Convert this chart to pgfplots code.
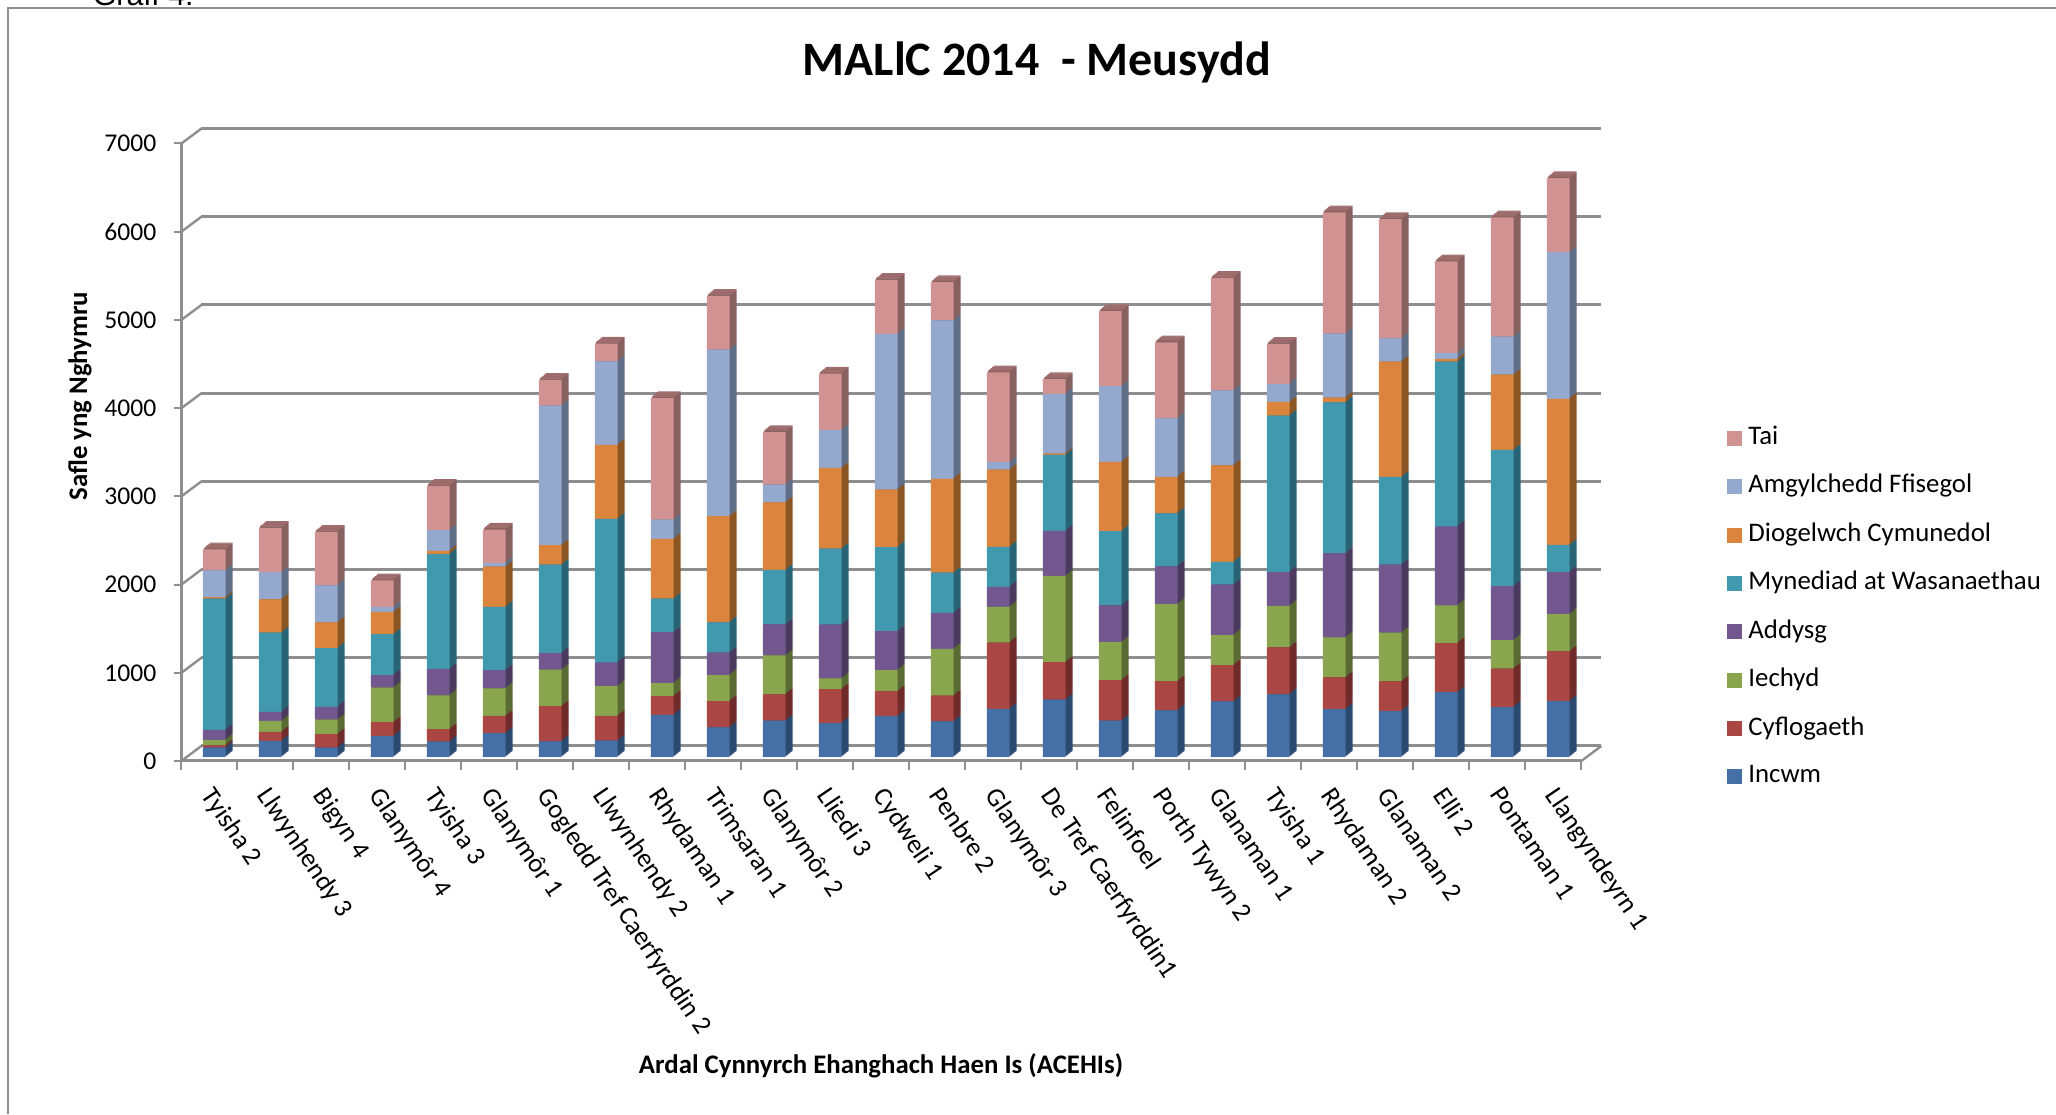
\documentclass[border=0pt]{standalone}
\usepackage{fontspec}
\setmainfont{Carlito}
\newfontfamily\arialfont{Liberation Sans}
\usepackage{pgfplots}
\usepackage{pgfplotstable}
\pgfplotsset{compat=1.18}

% 1 px of the reference = 0.25pt
\definecolor{gridgray}{HTML}{8E8E8E}
\definecolor{cIncwm}{HTML}{4470A6}
\definecolor{cCyf}{HTML}{AA4643}
\definecolor{cIech}{HTML}{89A54E}
\definecolor{cAddysg}{HTML}{73588F}
\definecolor{cMyn}{HTML}{4198AF}
\definecolor{cDio}{HTML}{DB843D}
\definecolor{cAmg}{HTML}{95A9CF}
\definecolor{cTai}{HTML}{D19392}
\definecolor{dIncwm}{HTML}{2A4A70}
\definecolor{dCyf}{HTML}{6E2B2A}
\definecolor{dIech}{HTML}{5A6A33}
\definecolor{dAddysg}{HTML}{4A3A5E}
\definecolor{dMyn}{HTML}{286474}
\definecolor{dDio}{HTML}{8C5624}
\definecolor{dAmg}{HTML}{5F6F88}
\definecolor{dTai}{HTML}{876060}
\definecolor{dTop}{HTML}{A06E6E}

\pgfplotstableread{
i  incwm cyf iech addysg myn  dio  amg  tai  cap
0  103   27  61   115    1486 19   303  237  12
1  180   103 123  103    900  375  310  502  12
2  103   153 165  146    666  291  421  605  12
3  237   157 391  142    463  253  54   303  12
4  172   142 383  299    1302 38   234  502  12
5  268   195 314  207    716  456  42   379  12
6  176   398 414  188    1003 222  1582 291  12
7  184   280 337  268    1628 839  946  203  12
8  475   214 146  578    379  678  218  1379 12
9  333   299 295  253    345  1203 1888 609  12
10 410   299 440  352    617  766  203  594  12
11 383   383 123  609    862  915  429  640  12
12 463   280 241  440    954  651  1766 613  12
13 402   291 532  406    456  1065 1796 433  12
14 544   751 406  226    452  877  84   1019 12
15 647   425 980  509    862  15   678  165  12
16 410   460 429  417    843  785  858  850  12
17 525   333 873  429    601  414  663  862  12
18 627   413 340  572    259  1094 849  1276 12
19 709   531 472  386    1771 154  204  454  12
20 541   359 454  953    1711 54   726  1376 12
21 518   336 554  772    994  1307 263  1353 12
22 732   558 427  894    1870 32   68   1036 12
23 564   436 322  613    1544 853  431  1353 12
24 632   563 422  481    304  1657 1662 840  12
}\datatable

\pgfplotsset{
  barsaxis/.style={
    scale only axis, width=350pt, height=154.35pt,
    xmin=-0.5, xmax=24.5, ymin=0, ymax=7000,
    ybar stacked, bar width=5.7pt, hide axis, clip=false,
  },
  wallaxis/.style={
    scale only axis, width=350pt, height=154.375pt,
    xmin=0, xmax=25, ymin=0, ymax=7000,
  },
}

\begin{document}
\begin{tikzpicture}[x=0.25pt,y=0.25pt]
\clip (0,0) rectangle (2056,1114);
\useasboundingbox (0,0) rectangle (2056,1114);

% page frame and the caption cut off above it
\node[anchor=base west,inner sep=0pt,font=\arialfont\fontsize{7.6}{9}\selectfont] at (92,1108) {Graff 4:};
\draw[gridgray,line width=0.5pt] (8,0) -- (8,1106) -- (2056,1106);

% back wall with the gridlines
\begin{axis}[wallaxis, at={(50.35pt,92pt)}, anchor=south west,
  axis line style={draw=none}, major tick length=0pt,
  ytick={0,1000,...,7000}, xtick=\empty, yticklabels={},
  ymajorgrids, grid style={gridgray,line width=0.75pt}]
\end{axis}

% wall and floor joints
\foreach \v in {0,1,...,7}
  \draw[gridgray,line width=0.6pt] (181.4,{353+\v*88.21}) -- (201.4,{368+\v*88.21});
\draw[gridgray,line width=0.6pt] (1581.4,353) -- (1601.4,368);

% front edges, ticks, labels
\begin{axis}[wallaxis, at={(45.35pt,88.25pt)}, anchor=south west,
  axis x line*=bottom, axis y line*=left,
  axis line style={gridgray,line width=0.75pt,-},
  tick align=outside, tick pos=left,
  major tick length=1.75pt, minor tick length=2.25pt,
  ytick={0,1000,...,7000},
  xtick={0.5,1.5,...,24.5},
  minor xtick={0,1,...,25},
  major x tick style={draw=none},
  every tick/.append style={gridgray,line width=0.5pt},
  minor tick style={gridgray,line width=0.5pt},
  /pgf/number format/1000 sep={}, /pgf/number format/assume math mode=true,
  yticklabel style={font=\fontsize{6.4}{8}\selectfont,xshift=-1pt},
  xticklabels={Tyisha 2,Llwynhendy 3,Bigyn 4,Glanymôr 4,Tyisha 3,Glanymôr 1,Gogledd Tref Caerfyrddin 2,Llwynhendy 2,Rhydaman 1,Trimsaran 1,Glanymôr 2,Lliedi 3,Cydweli 1,Penbre 2,Glanymôr 3,De Tref Caerfyrddin1,Felinfoel,Porth Tywyn 2,Glanaman 1,Tyisha 1,Rhydaman 2,Glanaman 2,Elli 2,Pontaman 1,Llangyndeyrn 1},
  xticklabel style={font=\fontsize{6.63}{8}\selectfont,rotate=-56,anchor=north west,inner sep=0pt,yshift=-0.84pt,xshift=4.33pt},
  title={MALlC 2014\ \ - Meusydd},
  title style={at={(0.611,1.137)},anchor=center,yshift=-6.9pt,font=\bfseries\fontsize{12}{14}\selectfont},
  xlabel={Ardal Cynnyrch Ehanghach Haen Is (ACEHIs)},
  every axis x label/.style={at={(0.4997,-0.494)},anchor=center,font=\bfseries\fontsize{6.7}{8}\selectfont},
  ylabel={Safle yng Nghymru},
  every axis y label/.style={at={(-0.0724,0.591)},rotate=90,anchor=center,font=\bfseries\fontsize{6.7}{8}\selectfont},
]
\end{axis}

% side and top faces: darker stacks shifted backwards, deepest first
\foreach \k in {7,6,...,1} {
\begin{axis}[barsaxis, at={({(186.3+\k)*0.25pt},{(357.2+\k*0.814)*0.25pt})}, anchor=south west]
  \addplot[fill=dIncwm,draw=none] table[x=i,y=incwm] {\datatable};
  \addplot[fill=dCyf,draw=none] table[x=i,y=cyf] {\datatable};
  \addplot[fill=dIech,draw=none] table[x=i,y=iech] {\datatable};
  \addplot[fill=dAddysg,draw=none] table[x=i,y=addysg] {\datatable};
  \addplot[fill=dMyn,draw=none] table[x=i,y=myn] {\datatable};
  \addplot[fill=dDio,draw=none] table[x=i,y=dio] {\datatable};
  \addplot[fill=dAmg,draw=none] table[x=i,y=amg] {\datatable};
  \addplot[fill=dTai,draw=none] table[x=i,y=tai] {\datatable};
  \addplot[fill=dTop,draw=none] table[x=i,y=cap] {\datatable};
\end{axis}
}

% front faces and legend
\begin{axis}[barsaxis, at={(46.575pt,89.3pt)}, anchor=south west,
  reverse legend,
  legend cell align=left,
  legend image code/.code={\fill[#1] (0pt,-1.875pt) rectangle (3.75pt,1.875pt);\path (5.4pt,0pt);},
  legend style={at={(1.0998,0.2425)},anchor=west,draw=none,fill=none,inner sep=0pt,
    font=\fontsize{6.7}{7}\selectfont,row sep=5.96pt,
    nodes={inner sep=0pt,anchor=west}},
]
  \addplot[fill=cIncwm,draw=none] table[x=i,y=incwm] {\datatable};
  \addlegendentry{Incwm}
  \addplot[fill=cCyf,draw=none] table[x=i,y=cyf] {\datatable};
  \addlegendentry{Cyflogaeth}
  \addplot[fill=cIech,draw=none] table[x=i,y=iech] {\datatable};
  \addlegendentry{Iechyd}
  \addplot[fill=cAddysg,draw=none] table[x=i,y=addysg] {\datatable};
  \addlegendentry{Addysg}
  \addplot[fill=cMyn,draw=none] table[x=i,y=myn] {\datatable};
  \addlegendentry{Mynediad at Wasanaethau}
  \addplot[fill=cDio,draw=none] table[x=i,y=dio] {\datatable};
  \addlegendentry{Diogelwch Cymunedol}
  \addplot[fill=cAmg,draw=none] table[x=i,y=amg] {\datatable};
  \addlegendentry{Amgylchedd Ffisegol}
  \addplot[fill=cTai,draw=none] table[x=i,y=tai] {\datatable};
  \addlegendentry{Tai}
\end{axis}
\end{tikzpicture}
\end{document}
